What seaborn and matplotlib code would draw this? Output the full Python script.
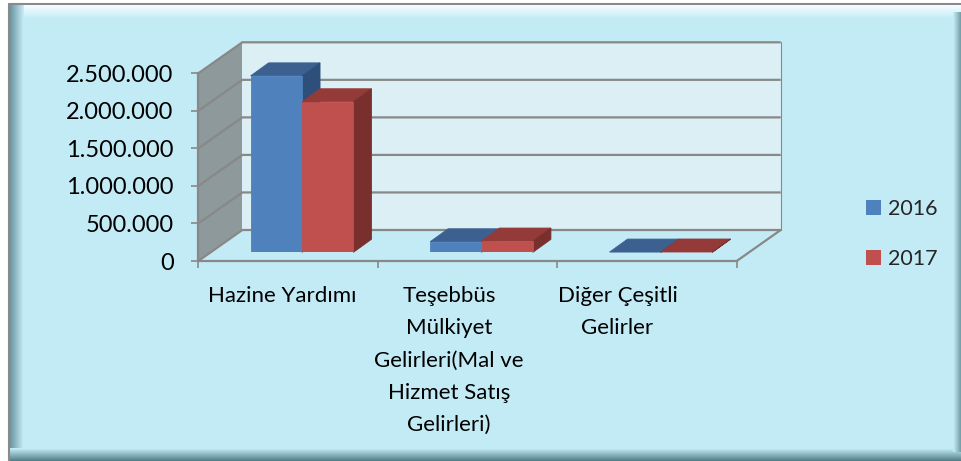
import numpy as np
import pandas as pd
import matplotlib
matplotlib.use("Agg")
import matplotlib.pyplot as plt
import seaborn as sns
from matplotlib.patches import Polygon, Rectangle, Patch
from matplotlib.colors import to_rgb

# ---------------- data ----------------
categories = ["Hazine Yardımı",
              "Teşebbüs\nMülkiyet\nGelirleri(Mal ve\nHizmet Satış\nGelirleri)",
              "Diğer Çeşitli\nGelirler"]
years = ["2016", "2017"]
values_2016 = [2350000, 140000, 3000]
values_2017 = [2005000, 150000, 4000]
yticks = [0, 500000, 1000000, 1500000, 2000000, 2500000]
ytick_labels = ["0", "500.000", "1.000.000", "1.500.000", "2.000.000", "2.500.000"]

df = pd.DataFrame({
    "kategori": categories * 2,
    "yil": [years[0]] * 3 + [years[1]] * 3,
    "deger": values_2016 + values_2017,
})

# ---------------- style ----------------
sns.set_theme(style="white")
plt.rcParams["font.family"] = ["Lato", "DejaVu Sans"]

W, H = 961, 461
BG = "#C3EBF5"
WALL = "#DBEFF5"
SIDE = "#8D999B"
GRID = "#888888"
front_cols = {"2016": "#4F81BD", "2017": "#C0504D"}
top_cols = {"2016": "#3C6191", "2017": "#943A38"}
side_cols = {"2016": "#2F4F7B", "2017": "#782F2D"}

fig = plt.figure(figsize=(W / 100, H / 100), dpi=100)
fig.patch.set_facecolor("white")

# background / bevel frame in pixel coordinates
bg = fig.add_axes([0, 0, 1, 1], zorder=0)
bg.set_xlim(0, W)
bg.set_ylim(H, 0)
bg.axis("off")
bg.add_patch(Rectangle((9, 4), W - 9, H - 4, fc=BG, ec="none", zorder=0))


def band(ax, start, stop, c0, c1, horizontal, span):
    """gradient band drawn pixel by pixel from c0 (at start) to c1 (at stop)"""
    a, b = np.array(to_rgb(c0)), np.array(to_rgb(c1))
    n = abs(stop - start)
    step = 1 if stop > start else -1
    for i in range(n):
        t = i / max(n - 1, 1)
        col = a * (1 - t) + b * t
        pos = start + i * step if step > 0 else start - i - 1
        if horizontal:
            ax.add_patch(Rectangle((pos, span[0]), 1, span[1] - span[0], fc=col, ec="none", zorder=1))
        else:
            ax.add_patch(Rectangle((span[0], pos), span[1] - span[0], 1, fc=col, ec="none", zorder=1))


band(bg, 5, 19, "#F6FDFF", BG, False, (10, W))            # top highlight
band(bg, 10, 24, "#6E97A2", BG, True, (5, H))              # left shade
band(bg, H, 448, "#55808B", BG, False, (10, W))            # bottom shade
band(bg, W, 953, "#76A1AB", BG, True, (12, 452))           # right shade
bg.plot([9, 9], [4, H], color="#8A8A8A", lw=1.5, zorder=2)
bg.plot([9, W], [4, 4], color="#8A8A8A", lw=1.5, zorder=2)

# ---------------- front plane axes ----------------
PX_X = 179.47            # pixels per category
PX_Y = 75.08e-6          # pixels per value unit
x0_px, y0_px = 198.3, 261.0
ax = fig.add_axes([x0_px / W, (H - y0_px) / H, 3 * PX_X / W, 2.5e6 * PX_Y / H], zorder=1)
ax.set_facecolor("none")
ax.set_xlim(-0.5, 2.5)
ax.set_ylim(0, 2.5e6)

dxw, dyw = 44 / PX_X, 31 / PX_Y   # depth of the back wall

# side wall
ax.add_patch(Polygon([(-0.5, 0), (-0.5, 2.5e6), (-0.5 + dxw, 2.5e6 + dyw), (-0.5 + dxw, dyw)],
                     closed=True, fc=SIDE, ec="none", clip_on=False, zorder=0.5))
# back wall
ax.add_patch(Rectangle((-0.5 + dxw, dyw), 3, 2.5e6, fc=WALL, ec="none", clip_on=False, zorder=0.5))
for v in yticks:
    ax.plot([-0.5, -0.5 + dxw, 2.5 + dxw], [v, v + dyw, v + dyw], color=GRID, lw=1.6,
            clip_on=False, zorder=0.8, solid_capstyle="butt")
ax.plot([2.5 + dxw, 2.5 + dxw], [dyw, 2.5e6 + dyw], color=GRID, lw=0.8, clip_on=False, zorder=0.8)
ax.plot([2.5, 2.5 + dxw], [0, dyw], color=GRID, lw=1.6, clip_on=False, zorder=0.8)

for s in ["top", "right"]:
    ax.spines[s].set_visible(False)
for s in ["left", "bottom"]:
    ax.spines[s].set_color(GRID)
    ax.spines[s].set_linewidth(1.6)
    ax.spines[s].set_zorder(0.9)

ax.set_yticks(yticks, ytick_labels)
ax.tick_params(axis="y", length=4.8, width=1.2, color=GRID, pad=13, labelsize=17,
               labelcolor="black", left=True)
label_pos = [-0.034, 0.897, 1.836]
ax.set_xticks(label_pos, categories)
ax.set_xticks([-0.5, 0.5, 1.5, 2.5], minor=True)
ax.tick_params(axis="x", which="major", length=0, pad=18, labelsize=16, labelcolor="black")
ax.tick_params(axis="x", which="minor", length=5, width=1.2, color=GRID, bottom=True)
for t in ax.get_xticklabels():
    t.set_linespacing(1.77)
    t.set_verticalalignment("top")
ax.set_xlabel("")
ax.set_ylabel("")

# ---------------- bar plane axes ----------------
dxb, dyb = 14.0, 8.7
axb = fig.add_axes([(x0_px + dxb) / W, (H - y0_px + dyb) / H, 3 * PX_X / W, 2.5e6 * PX_Y / H], zorder=2)
axb.set_facecolor("none")
sns.barplot(data=df, x="kategori", y="deger", hue="yil", hue_order=years,
            palette=[front_cols[y] for y in years], width=0.573, saturation=1,
            errorbar=None, legend=False, ax=axb)
axb.set_xlim(-0.5, 2.5)
axb.set_ylim(0, 2.5e6)
axb.axis("off")

dx, dy = 18 / PX_X, 13 / PX_Y
for k, (yr, cont) in enumerate(zip(years, axb.containers)):
    for p in cont.patches:
        x = p.get_x(); w = p.get_width(); h = p.get_height()
        p.set_zorder(3 + 2 * k)
        p.set_edgecolor(front_cols[yr]); p.set_linewidth(0.6)
        axb.add_patch(Polygon([(x, h), (x + w, h), (x + w + dx, h + dy), (x + dx, h + dy)],
                              closed=True, fc=top_cols[yr], ec=top_cols[yr], lw=0.6,
                              clip_on=False, zorder=2.5 + 2 * k))
        axb.add_patch(Polygon([(x + w, 0), (x + w, h), (x + w + dx, h + dy), (x + w + dx, dy)],
                              closed=True, fc=side_cols[yr], ec=side_cols[yr], lw=0.6,
                              clip_on=False, zorder=2.5 + 2 * k))

# ---------------- legend ----------------
handles = [Patch(fc=front_cols[y], ec="none") for y in years]
fig.legend(handles, years, loc="center left", bbox_to_anchor=(866 / W, 1 - 234 / H),
           frameon=False, fontsize=15.5, handlelength=0.7, handleheight=0.7,
           handletextpad=0.33, labelspacing=1.4, borderpad=0, borderaxespad=0)

fig.savefig("out.png", dpi=100, facecolor=fig.get_facecolor())
